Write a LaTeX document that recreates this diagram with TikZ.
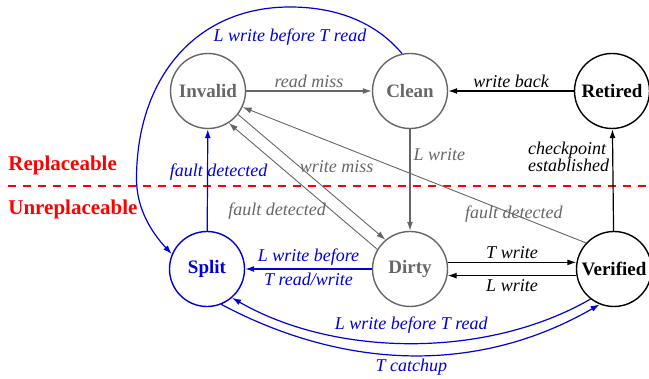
\documentclass[tikz,border=0pt]{standalone}
\usepackage{fontspec}
\setmainfont{Liberation Serif}
\usetikzlibrary{arrows.meta}
\definecolor{stgray}{RGB}{102,102,102}
\definecolor{stblue}{RGB}{0,0,215}

\begin{document}
\begin{tikzpicture}[x=0.5pt,y=0.5pt,
  st/.style={circle,draw,line width=0.7pt,minimum size=37.5pt,inner sep=0pt,
    font=\fontsize{9.5}{11}\selectfont\bfseries},
  lbl/.style={inner sep=1.5pt,font=\fontsize{9}{10}\selectfont\itshape},
  zone/.style={red,anchor=west,inner sep=0pt,font=\fontsize{10.5}{12}\selectfont\bfseries},
  tr/.style={-{Latex[length=4.5pt,width=3pt]},line width=0.6pt}]
\useasboundingbox (0,0) rectangle (649,379);

% states
\node[st,stgray] (inv) at (208,288) {Invalid};
\node[st,stgray] (clean) at (410,288) {Clean};
\node[st] (retired) at (612,288) {Retired};
\node[st,stblue] (split) at (207,110) {Split};
\node[st,stgray] (dirty) at (410,110) {Dirty};
\node[st] (verified) at (614,110) {Verified};

% boundary
\draw[red,line width=0.65pt,dash pattern=on 4pt off 3.5pt] (8,193) -- (649,193);
\node[zone] (repl) at (8,214) {Replaceable};
\node[zone] (unrepl) at (8,170) {Unreplaceable};

% transitions
\draw[tr,stgray] (inv) -- (clean) node[lbl,pos=0.5,above]{read miss};
\draw[tr] (retired) -- (clean) node[lbl,pos=0.5,above]{write back};
\draw[tr,stgray] (clean) -- (dirty) node[lbl,pos=0.25,right]{L write};
\draw[tr] (verified) -- (retired)
  node[lbl,pos=0.73,left,align=left,font=\fontsize{9}{8.5}\selectfont\itshape]{checkpoint\\established};
\draw[tr] (dirty.10) -- (verified.170) node[lbl,pos=0.5,above]{T write};
\draw[tr] (verified.190) -- (dirty.-10) node[lbl,pos=0.5,below]{L write};

\draw[tr,stgray,line width=0.45pt] (inv.-38) -- (dirty.130)
  node[lbl,pos=0.56,shift={(16,18)}]{write miss};
\draw[tr,stgray,line width=0.45pt] (dirty.149) -- (inv.-57)
  node[lbl,pos=0.52,shift={(-23,-27)}]{fault detected};
\draw[tr,stgray,line width=0.45pt] (verified.137) -- (inv.-25)
  node[lbl,pos=0.21]{fault detected};

% blue ones
\draw[tr,stblue] (dirty) -- (split)
  node[lbl,pos=0.5,above]{L write before}
  node[lbl,pos=0.5,below]{T read/write};
\draw[tr,stblue] (split) -- (inv) node[lbl,pos=0.58,xshift=5.5pt]{fault detected};
\draw[tr,stblue] (clean.102) .. controls (373,360) and (331,372) .. (290,372)
  node[lbl,yshift=-15pt]{L write before T read}
  .. controls (195,372) and (136.5,300) .. (136.5,200)
  .. controls (136.5,170) and (152,146) .. (split.157);
\draw[tr,stblue] (verified.-128) to[out=-150,in=-30,looseness=0.85]
  node[lbl,pos=0.5,above,yshift=3pt]{L write before T read} (split.-49);
\draw[tr,stblue] (split.-68) to[out=-28,in=-150,looseness=0.95]
  node[lbl,pos=0.5,below]{T catchup} (verified.-112);
\end{tikzpicture}
\end{document}
